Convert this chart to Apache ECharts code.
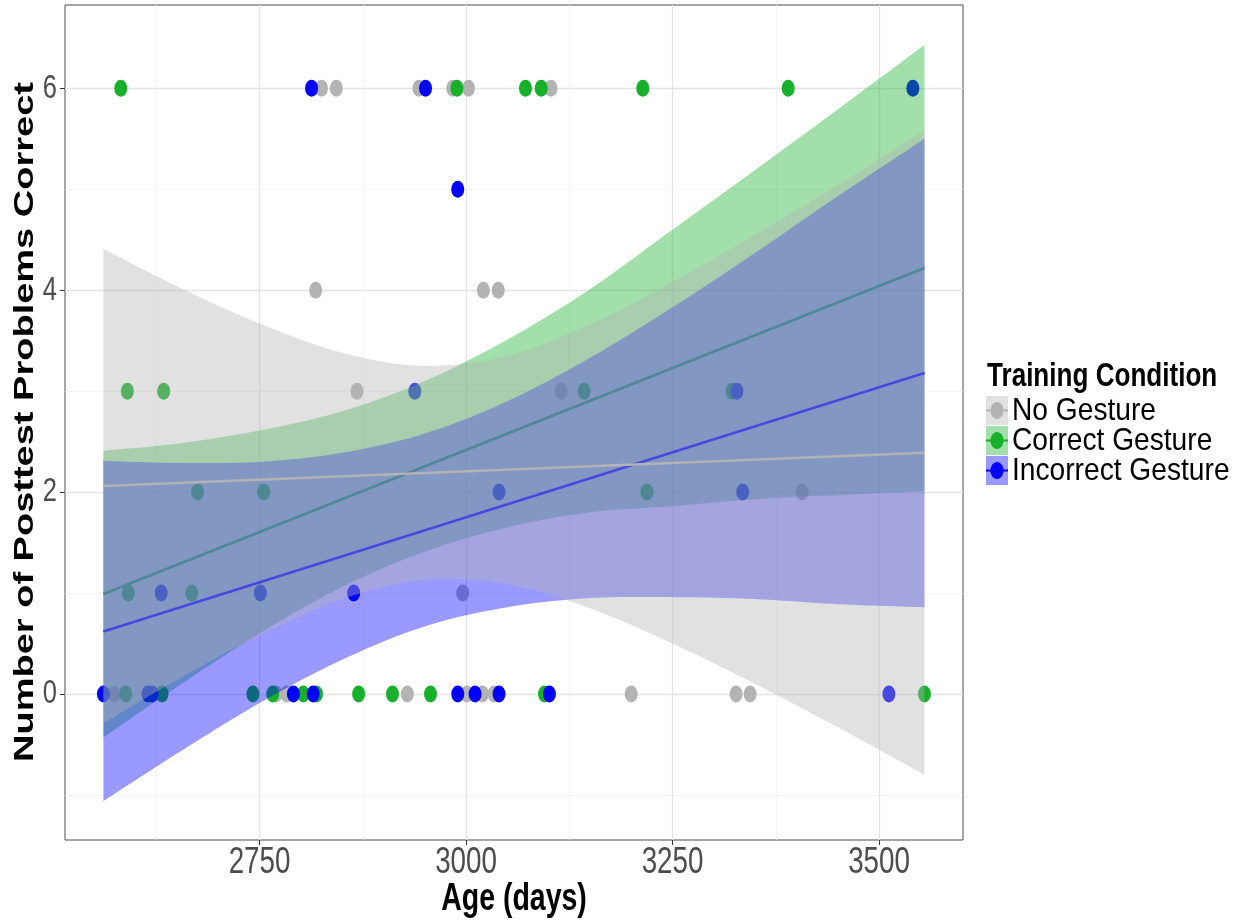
<!DOCTYPE html>
<html>
<head>
<meta charset="utf-8">
<script src="https://cdn.jsdelivr.net/npm/echarts@6/dist/echarts.min.js"></script>
<style>
html,body{margin:0;padding:0;background:#ffffff;}
#chart{width:1244px;height:921px;}
</style>
</head>
<body>
<div id="chart"></div>
<script>
// ---------------- data ----------------
const groups = ['No Gesture', 'Correct Gesture', 'Incorrect Gesture'];

const ageTicks = [2750, 3000, 3250, 3500];
const ageMinorTicks = [2625, 2875, 3125, 3375];
const scoreTicks = [0, 2, 4, 6];
const scoreMinorTicks = [-1, 1, 3, 5];

// raw observations
const noGestureAge   = [2825, 2843, 2943, 2984, 3003, 3103, 2818, 3021, 3039, 2868, 3115, 3407, 2996, 2574, 2770, 2783, 2929, 3001, 3020, 3034, 3200, 3327, 3344];
const noGestureScore = [6, 6, 6, 6, 6, 6, 4, 4, 4, 3, 3, 2, 1, 0, 0, 0, 0, 0, 0, 0, 0, 0, 0];

const correctAge   = [2582, 2989, 3072, 3091, 3214, 3390, 2590, 2634, 3143, 3322, 2675, 2755, 3219, 2591, 2668, 2588, 2632, 2742, 2766, 2803, 2819, 2870, 2911, 2957, 3095, 3555];
const correctScore = [6, 6, 6, 6, 6, 6, 3, 3, 3, 3, 2, 2, 2, 1, 1, 0, 0, 0, 0, 0, 0, 0, 0, 0, 0, 0];

const incorrectAge   = [2813, 2951, 3541, 2990, 2938, 3328, 3040, 3335, 2631, 2751, 2864, 2561, 2615, 2620, 2791, 2815, 2990, 3011, 3040, 3101, 3512];
const incorrectScore = [6, 6, 6, 5, 3, 3, 2, 2, 1, 1, 1, 0, 0, 0, 0, 0, 0, 0, 0, 0, 0];

// fitted lines (end points)
const fitAge = [2561, 3555];
const noGestureFit = [2.06, 2.39];
const correctFit   = [0.99, 4.22];
const incorrectFit = [0.62, 3.18];

// confidence bands
const bandAge = [2561, 2650, 2750, 2850, 2950, 3050, 3150, 3250, 3350, 3450, 3555];
const noGestureUpper = [4.41, 4.04, 3.67, 3.38, 3.25, 3.35, 3.66, 4.08, 4.55, 5.04, 5.58];
const noGestureLower = [-0.29, 0.14, 0.58, 0.94, 1.13, 1.09, 0.85, 0.50, 0.10, -0.33, -0.80];
const correctUpper   = [2.41, 2.48, 2.61, 2.80, 3.10, 3.51, 4.01, 4.60, 5.19, 5.79, 6.43];
const correctLower   = [-0.43, 0.07, 0.60, 1.06, 1.41, 1.65, 1.80, 1.86, 1.93, 1.97, 2.01];
const incorrectUpper = [2.31, 2.29, 2.30, 2.39, 2.58, 2.90, 3.33, 3.83, 4.37, 4.93, 5.50];
const incorrectLower = [-1.06, -0.59, -0.09, 0.34, 0.67, 0.86, 0.95, 0.96, 0.94, 0.89, 0.86];

// ---------------- styling ----------------
const COL = { gray: '#b3b3b3', green: '#16b02a', blue: '#0000ff' };
const FILL = { gray: 'rgba(179,179,179,0.4)', green: 'rgba(22,176,42,0.4)', blue: 'rgba(0,0,255,0.4)' };
const KEYFILL = { gray: '#e1e1e1', green: '#a2dfaa', blue: '#9999ff' };
const ELLIPSE = 'path://M50,0 A50,50 0 1,1 50,100 A50,50 0 1,1 50,0 Z';
const FONT = "'Liberation Sans', Arial, Helvetica, sans-serif";
const SQUISH = 0.75;

const xMin = 2514.5, xMax = 3601.7, yMin = -1.446, yMax = 6.825;

// Catmull-Rom smoothing of pixel points (rendering only)
function smoothPts(p) {
  const out = [];
  const n = p.length;
  for (let i = 0; i < n - 1; i++) {
    const p0 = p[Math.max(0, i - 1)], p1 = p[i], p2 = p[i + 1], p3 = p[Math.min(n - 1, i + 2)];
    for (let s = 0; s < 12; s++) {
      const t = s / 12, t2 = t * t, t3 = t2 * t;
      const f = (a, b, c, d) => 0.5 * (2 * b + (-a + c) * t + (2 * a - 5 * b + 4 * c - d) * t2 + (-a + 3 * b - 3 * c + d) * t3);
      out.push([f(p0[0], p1[0], p2[0], p3[0]), f(p0[1], p1[1], p2[1], p3[1])]);
    }
  }
  out.push(p[n - 1]);
  return out;
}

function scatter(name, ages, scores, color) {
  return {
    type: 'scatter', name: name,
    data: ages.map((a, i) => [a, scores[i]]),
    symbol: ELLIPSE, symbolSize: [13, 17],
    itemStyle: { color: color, opacity: 1 },
    z: 1, silent: true
  };
}
function band(id, lower, upper, fill, z) {
  return {
    type: 'custom', name: id + '-band',
    data: bandAge.map((a, i) => [a, lower[i], upper[i]]),
    encode: { x: 0, y: [1, 2] },
    renderItem: function (params, api) {
      if (params.dataIndex !== 0) return null;
      const up = bandAge.map((a, i) => api.coord([a, upper[i]]));
      const lo = bandAge.map((a, i) => api.coord([a, lower[i]]));
      const pts = smoothPts(up).concat(smoothPts(lo).reverse());
      return { type: 'polygon', shape: { points: pts }, style: { fill: fill } };
    },
    z: z, silent: true
  };
}
function fitLine(id, vals, color, z) {
  return { type: 'line', name: id + '-fit', data: fitAge.map((a, i) => [a, vals[i]]),
    symbol: 'none', lineStyle: { color: color, width: 2.6 }, z: z, silent: true };
}

const series = [
  scatter(groups[0], noGestureAge, noGestureScore, COL.gray),
  scatter(groups[1], correctAge, correctScore, COL.green),
  scatter(groups[2], incorrectAge, incorrectScore, COL.blue),
  band('correct', correctLower, correctUpper, FILL.green, 3),
  fitLine('correct', correctFit, COL.green, 4),
  band('incorrect', incorrectLower, incorrectUpper, FILL.blue, 5),
  fitLine('incorrect', incorrectFit, COL.blue, 6),
  band('nogesture', noGestureLower, noGestureUpper, FILL.gray, 7),
  fitLine('nogesture', noGestureFit, COL.gray, 8)
];

// legend drawn as graphic (ggplot-style keys)
const legendKeys = [['gray', groups[0]], ['green', groups[1]], ['blue', groups[2]]];
const graphics = [
  { type: 'text', id: 'legtitle', x: 987, y: 377, scaleX: 0.79,
    style: { text: 'Training Condition', font: "bold 33px " + FONT, fill: '#000', textAlign: 'left', textVerticalAlign: 'middle' } },
  { type: 'text', id: 'xname', x: 514, y: 900, scaleX: SQUISH,
    style: { text: 'Age (days)', font: "bold 38px " + FONT, fill: '#000', textAlign: 'center', textVerticalAlign: 'middle' } },
  { type: 'text', id: 'yname', x: 25, y: 422, rotation: Math.PI / 2, scaleY: 0.72,
    style: { text: 'Number of Posttest Problems Correct', font: "bold 38px " + FONT, fill: '#000', textAlign: 'center', textVerticalAlign: 'middle' } }
];
legendKeys.forEach((k, i) => {
  const cy = 410.5 + i * 30;
  graphics.push({ type: 'rect', id: 'kr' + i, shape: { x: 986, y: cy - 14.5, width: 22, height: 29 }, style: { fill: KEYFILL[k[0]] } });
  graphics.push({ type: 'line', id: 'kl' + i, shape: { x1: 986, y1: cy, x2: 1008, y2: cy }, style: { stroke: COL[k[0]], lineWidth: 2 } });
  graphics.push({ type: 'ellipse', id: 'ke' + i, shape: { cx: 997, cy: cy, rx: 6.5, ry: 8.5 }, style: { fill: COL[k[0]] } });
  graphics.push({ type: 'text', id: 'kt' + i, x: 1012, y: cy + 1, scaleX: 0.88,
    style: { text: k[1], font: "32px " + FONT, fill: '#000', textAlign: 'left', textVerticalAlign: 'middle' } });
});

const chart = echarts.init(document.getElementById('chart'), null, { renderer: 'canvas' });
chart.setOption({
  animation: false,
  backgroundColor: '#ffffff',
  grid: { left: 65, right: 281, top: 5, bottom: 81, show: true, borderColor: '#4d4d4d', borderWidth: 1, backgroundColor: 'rgba(0,0,0,0)' },
  xAxis: [
    { type: 'value', min: xMin, max: xMax, position: 'bottom',
      axisLine: { show: false, onZero: false },
      axisTick: { show: true, customValues: ageTicks, length: 5, lineStyle: { color: '#333', width: 1 } },
      axisLabel: { show: false, customValues: ageTicks },
      splitLine: { show: true, lineStyle: { color: '#e4e4e4', width: 1.3 } } },
    { type: 'value', min: xMin, max: xMax, position: 'top',
      axisLine: { show: false, onZero: false },
      axisTick: { show: false, customValues: ageMinorTicks },
      axisLabel: { show: false, customValues: ageMinorTicks },
      splitLine: { show: true, lineStyle: { color: '#f1f1f1', width: 0.8 } } }
  ],
  yAxis: [
    { type: 'value', min: yMin, max: yMax, position: 'left',
      axisLine: { show: false, onZero: false },
      axisTick: { show: true, customValues: scoreTicks, length: 5, lineStyle: { color: '#333', width: 1 } },
      axisLabel: { show: false, customValues: scoreTicks },
      splitLine: { show: true, lineStyle: { color: '#e4e4e4', width: 1.3 } } },
    { type: 'value', min: yMin, max: yMax, position: 'right',
      axisLine: { show: false, onZero: false },
      axisTick: { show: false, customValues: scoreMinorTicks },
      axisLabel: { show: false, customValues: scoreMinorTicks },
      splitLine: { show: true, lineStyle: { color: '#f1f1f1', width: 0.8 } } }
  ],
  series: series,
  graphic: graphics
});

// tick labels placed through the axes' own scales, drawn horizontally condensed like the reference
const tickLabels = [];
ageTicks.forEach((v, i) => {
  tickLabels.push({ type: 'text', id: 'xt' + i, x: chart.convertToPixel({ xAxisIndex: 0 }, v), y: 863, scaleX: SQUISH,
    style: { text: String(v), font: "37px " + FONT, fill: '#4d4d4d', textAlign: 'center', textVerticalAlign: 'middle' } });
});
scoreTicks.forEach((v, i) => {
  tickLabels.push({ type: 'text', id: 'yt' + i, x: 57, y: chart.convertToPixel({ yAxisIndex: 0 }, v), scaleX: SQUISH,
    style: { text: String(v), font: "34px " + FONT, fill: '#4d4d4d', textAlign: 'right', textVerticalAlign: 'middle' } });
});
chart.setOption({ graphic: graphics.concat(tickLabels) });
</script>
</body>
</html>
